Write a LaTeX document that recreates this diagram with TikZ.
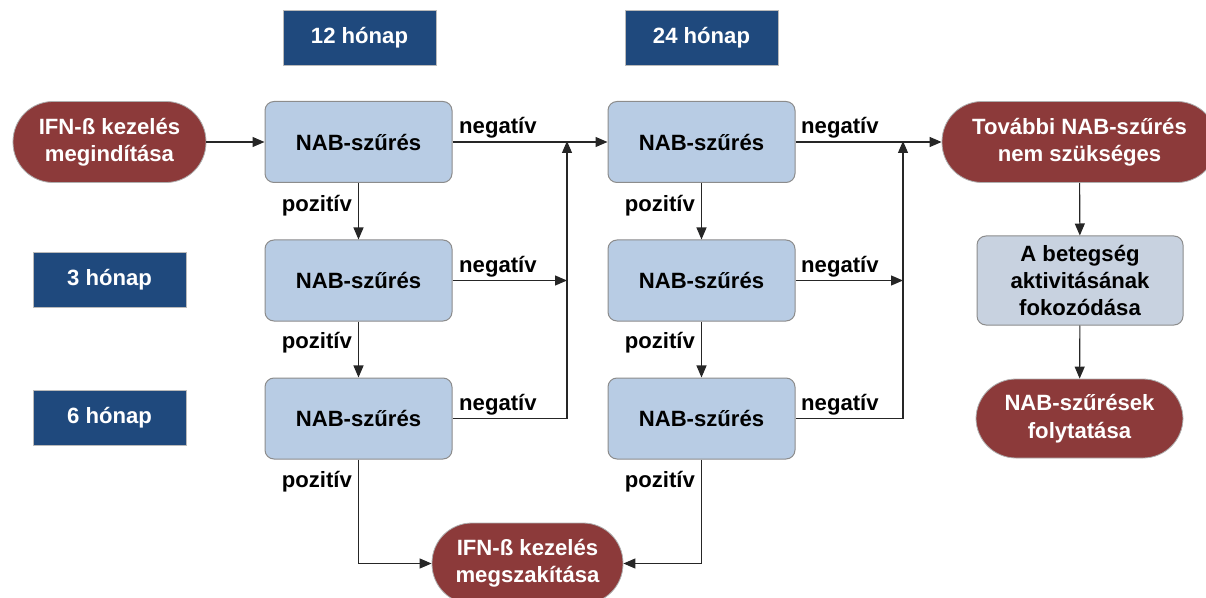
\documentclass[tikz,border=0pt]{standalone}
\usepackage{fontspec}
\setmainfont{Liberation Sans}
\usetikzlibrary{arrows.meta,positioning}
\definecolor{hdrblue}{HTML}{1F497D}
\definecolor{pillred}{HTML}{8C3A3A}
\definecolor{boxblue}{HTML}{B8CCE4}
\definecolor{boxgray}{HTML}{C8D2E0}
\definecolor{edgegray}{HTML}{8C8C8C}
\tikzset{
  every node/.style={font=\fontsize{22.2}{27.5}\selectfont\bfseries, align=center, inner sep=0pt},
  timebox/.style={rectangle, fill=hdrblue, draw=edgegray!60, line width=0.6bp, text=white,
    minimum width=153bp, minimum height=55bp},
  testbox/.style={rectangle, rounded corners=9bp, fill=boxblue, draw=edgegray, line width=1bp,
    minimum width=187bp, minimum height=81bp},
  infobox/.style={rectangle, rounded corners=9bp, fill=boxgray, draw=edgegray, line width=1bp,
    minimum width=206bp, minimum height=89bp},
  pill/.style={rectangle, rounded corners=40bp, fill=pillred, draw=edgegray!70, line width=0.8bp,
    text=white, minimum height=81bp},
  flow/.style={draw=black!85, line width=1.1bp, -{Triangle[length=12bp,width=10bp]}},
  neglabel/.style={anchor=south west},
  poslabel/.style={anchor=east},
}
\begin{document}
\begin{tikzpicture}[x=1bp,y=-1bp]
\useasboundingbox (0,0) rectangle (1206,598);

% time headers
\node[timebox] (t12) at (359.5,38) {12 hónap};
\node[timebox] (t24) at (701.5,38) {24 hónap};
\node[timebox] (t3)  at (109.5,279.5) {3 hónap};
\node[timebox] (t6)  at (109.5,417.5) {6 hónap};

% start and end states
\node[pill, minimum width=193bp] (start) at (109.5,142) {IFN-ß kezelés\\megindítása};
\node[pill, minimum width=191bp] (stop) at (527.5,563.5) {IFN-ß kezelés\\megszakítása};
\node[pill, minimum width=275bp] (nomore) at (1079.5,142) {További NAB-szűrés\\nem szükséges};
\node[infobox] (act) at (1080,280.5) {A betegség\\aktivitásának\\fokozódása};
\node[pill, minimum width=207bp, minimum height=79bp] (cont) at (1079.5,418.5) {NAB-szűrések\\folytatása};

% screening boxes, first and second year
\node[testbox] (a1) at (358.5,142)   {NAB-szűrés};
\node[testbox] (a2) at (358.5,280.5) {NAB-szűrés};
\node[testbox] (a3) at (358.5,418.5) {NAB-szűrés};
\node[testbox] (b1) at (701.5,142)   {NAB-szűrés};
\node[testbox] (b2) at (701.5,280.5) {NAB-szűrés};
\node[testbox] (b3) at (701.5,418.5) {NAB-szűrés};

% junction points of the negative branches
\coordinate (ja1) at (567,142);
\coordinate (ja2) at (567,280.5);
\coordinate (ja3) at (567,418.5);
\coordinate (jb1) at (903,142);
\coordinate (jb2) at (903,280.5);
\coordinate (jb3) at (903,418.5);
\coordinate (pa) at (358.5,563.5);
\coordinate (pb) at (701.5,563.5);

% connectors
\draw[flow] (start) -- (a1);
\draw[flow] (a1) -- (b1);
\draw[flow] (a2) -- (ja2);
\draw[flow] (a3.east) -- (ja3) -- ([yshift=1bp]ja1);
\draw[flow] (b1) -- (nomore);
\draw[flow] (b2) -- (jb2);
\draw[flow] (b3.east) -- (jb3) -- ([yshift=1bp]jb1);
\draw[flow] (a1) -- (a2);
\draw[flow] (a2) -- (a3);
\draw[flow] (b1) -- (b2);
\draw[flow] (b2) -- (b3);
\draw[flow] (a3.south) -- (pa) -- (stop.west);
\draw[flow] (b3.south) -- (pb) -- (stop.east);
\draw[flow] (nomore) -- (act);
\draw[flow] (act) -- (cont);

% branch labels
\node[neglabel] (na1) at (459,138.5) {negatív};
\node[neglabel] (na2) at (459,277) {negatív};
\node[neglabel] (na3) at (459,415) {negatív};
\node[neglabel] (nb1) at (801,138.5) {negatív};
\node[neglabel] (nb2) at (801,277) {negatív};
\node[neglabel] (nb3) at (801,415) {negatív};
\node[poslabel] (pa1) at (352,206) {pozitív};
\node[poslabel] (pa2) at (352,343) {pozitív};
\node[poslabel] (pa3) at (352,482) {pozitív};
\node[poslabel] (pb1) at (695,206) {pozitív};
\node[poslabel] (pb2) at (695,343) {pozitív};
\node[poslabel] (pb3) at (695,482) {pozitív};
\end{tikzpicture}
\end{document}
